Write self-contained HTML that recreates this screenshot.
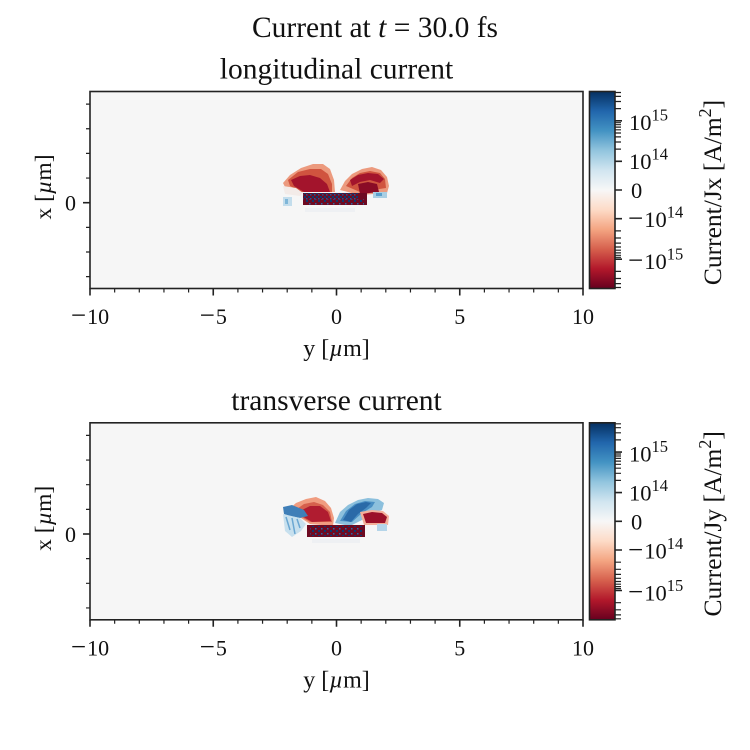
<!DOCTYPE html>
<html><head><meta charset="utf-8"><style>
html,body{margin:0;padding:0;background:#fff;}
svg{display:block;}
text{font-family:"Liberation Serif",serif;fill:#111;}
</style></head><body>
<svg width="750" height="750" viewBox="0 0 750 750" xmlns="http://www.w3.org/2000/svg">
<defs>
<linearGradient id="rdbu" x1="0" y1="0" x2="0" y2="1">
<stop offset="0" stop-color="#053061"/>
<stop offset="0.1" stop-color="#2166ac"/>
<stop offset="0.2" stop-color="#4393c3"/>
<stop offset="0.3" stop-color="#92c5de"/>
<stop offset="0.4" stop-color="#d1e5f0"/>
<stop offset="0.5" stop-color="#f7f7f7"/>
<stop offset="0.6" stop-color="#fddbc7"/>
<stop offset="0.7" stop-color="#f4a582"/>
<stop offset="0.8" stop-color="#d6604d"/>
<stop offset="0.9" stop-color="#b2182b"/>
<stop offset="1" stop-color="#67001f"/>
</linearGradient>
<pattern id="sp" width="4" height="4" patternUnits="userSpaceOnUse">
<rect x="0" y="0" width="2" height="2" fill="#0b3b70"/>
<rect x="2" y="2" width="1.5" height="1.5" fill="#1d5b98"/>
</pattern>
<pattern id="sp2" width="6" height="5" patternUnits="userSpaceOnUse">
<rect x="0" y="0" width="2" height="2" fill="#0b3b70"/>
<rect x="3" y="3" width="1.5" height="1.5" fill="#2a6aa8"/>
</pattern>
</defs>

<!-- suptitle -->
<text x="375" y="37" font-size="29.5" text-anchor="middle">Current at <tspan font-style="italic">t</tspan> = 30.0 fs</text>

<!-- ================= TOP PANEL ================= -->
<g id="top">
<text x="336.5" y="78.5" font-size="29.5" text-anchor="middle">longitudinal current</text>
<rect x="90" y="91.5" width="493" height="197" fill="#f6f6f6"/>

<!-- blob Jx -->
<g>
<path d="M283,183 L290,175 L301,168 L313,164 L323,164 L330,169 L334,180 L335,192 L300,192 L285,187 Z" fill="#ec9a7e"/>
<path d="M288,180 L298,172 L310,169 L321,169 L328,174 L332,184 L332,192 L302,192 L290,186 Z" fill="#d0543f"/>
<path d="M291,180 L300,176 L310,175 L320,178 L327,184 L330,192 L304,192 L294,186 Z" fill="#a3142c"/>
<path d="M283,186 L296,188 L303,193 L300,196 L285,194 Z" fill="#f3ebe8"/>
<path d="M340,190 L345,181 L352,174 L362,169 L372,167 L381,170 L387,177 L389,186 L387,193 L360,195 Z" fill="#ec9a7e"/>
<path d="M346,186 L352,178 L360,173 L370,171 L380,173 L385,179 L386,188 L360,192 Z" fill="#d0543f"/>
<path d="M350,180 L358,175 L368,173 L378,174 L384,179 L380,183 L370,180 L360,182 L352,186 Z" fill="#a3142c"/>
<path d="M358,184 L368,182 L377,184 L379,192 L360,194 Z" fill="#8a0c26"/>
<rect x="373" y="192" width="14" height="6" fill="#a9cfe4"/>
<rect x="376" y="193" width="6" height="3" fill="#5a9fcb"/>
<rect x="283" y="197" width="9" height="9" fill="#c3ddec"/>
<rect x="285" y="199" width="3" height="5" fill="#7fb6d8"/>
<rect x="304" y="194" width="10" height="5" fill="#7fb6d8"/>
<rect x="303" y="193" width="64" height="12" fill="#6d0a22"/>
<rect x="303" y="193" width="55" height="7" fill="url(#sp)"/>
<rect x="306" y="199" width="58" height="6" fill="url(#sp2)"/>
<rect x="305" y="208" width="50" height="4" fill="#eef0f3"/>
</g>

<!-- frame -->
<rect x="90" y="91.5" width="493" height="197" fill="none" stroke="#222" stroke-width="1.6"/>
<path d="M90,288.5v7M213.25,288.5v7M336.5,288.5v7M459.75,288.5v7M583,288.5v7" stroke="#222" stroke-width="1.6"/>
<path d="M114.65,288.5v4M139.3,288.5v4M163.95,288.5v4M188.6,288.5v4M237.9,288.5v4M262.55,288.5v4M287.2,288.5v4M311.85,288.5v4M361.15,288.5v4M385.8,288.5v4M410.45,288.5v4M435.1,288.5v4M484.4,288.5v4M509.05,288.5v4M533.7,288.5v4M558.35,288.5v4" stroke="#222" stroke-width="1.2"/>
<path d="M83,202.7h7" stroke="#222" stroke-width="1.6"/>
<path d="M86,104.1h4M86,128.75h4M86,153.4h4M86,178.05h4M86,227.35h4M86,252h4M86,276.65h4" stroke="#222" stroke-width="1.2"/>
<text x="76" y="210.5" font-size="22" text-anchor="end">0</text>
<g font-size="22" text-anchor="middle">
<text x="90" y="324"><tspan font-size="27">−</tspan><tspan dx="1">10</tspan></text>
<text x="213.25" y="324"><tspan font-size="27">−</tspan><tspan dx="1">5</tspan></text>
<text x="336.5" y="324">0</text>
<text x="459.75" y="324">5</text>
<text x="583" y="324">10</text>
</g>
<text x="336.5" y="356" font-size="24" text-anchor="middle">y [<tspan font-style="italic">µ</tspan>m]</text>
<text transform="translate(51,187) rotate(-90)" font-size="23.5" text-anchor="middle">x [<tspan font-style="italic">µ</tspan>m]</text>

<!-- colorbar -->
<rect x="589.5" y="91.5" width="25.5" height="197" fill="url(#rdbu)" stroke="#222" stroke-width="1.6"/>
<path d="M615,120.8h7M615,161.3h7M615,190h7M615,218.7h7M615,259.2h7" stroke="#222" stroke-width="1.6"/>
<path d="M615,92.5h6M615,96.4h6M615,101.5h6M615,108.6h6M615,122.7h6M615,124.7h6M615,127.1h6M615,129.8h6M615,133h6M615,136.9h6M615,142h6M615,149.1h6M615,230.9h6M615,238h6M615,243.1h6M615,247h6M615,250.2h6M615,252.9h6M615,255.3h6M615,257.3h6M615,271.4h6M615,278.5h6M615,283.6h6M615,287.5h6" stroke="#222" stroke-width="1.2"/>
<g font-size="22.5">
<text x="629" y="130">10<tspan font-size="16.5" dy="-9.5">15</tspan></text>
<text x="629" y="169">10<tspan font-size="16.5" dy="-9.5">14</tspan></text>
<text x="631" y="198">0</text>
<text x="628" y="227"><tspan font-size="27">−</tspan><tspan dx="1">10</tspan><tspan font-size="16.5" dy="-9.5">14</tspan></text>
<text x="628" y="269"><tspan font-size="27">−</tspan><tspan dx="1">10</tspan><tspan font-size="16.5" dy="-9.5">15</tspan></text>
</g>
<text transform="translate(721,192.5) rotate(-90)" font-size="25.5" text-anchor="middle">Current/Jx [A/m<tspan font-size="18" dy="-10">2</tspan><tspan dy="10">]</tspan></text>
</g>

<!-- ================= BOTTOM PANEL ================= -->
<g id="bottom">
<text x="336.5" y="409.8" font-size="29.5" text-anchor="middle">transverse current</text>
<rect x="90" y="422.8" width="493" height="197" fill="#f6f6f6"/>

<g>
<path d="M288,510 L296,503 L306,499 L316,497 L325,501 L331,508 L334,518 L333,526 L310,524 L298,516 Z" fill="#f09c80"/>
<path d="M294,511 L304,504 L314,502 L323,505 L330,512 L332,522 L310,522 L300,516 Z" fill="#d6604d"/>
<path d="M300,511 L310,506 L320,506 L328,512 L331,521 L312,522 L302,516 Z" fill="#b01c30"/>
<path d="M283,507 L292,505 L304,510 L308,516 L300,518 L290,516 L284,514 Z" fill="#3f7fb8"/>
<path d="M283,514 L300,518 L306,524 L301,531 L292,537 L285,531 Z" fill="#c7e0ee"/>
<path d="M286,517 L290,530 M292,518 L295,534 M297,519 L300,528" stroke="#6aa7d2" stroke-width="1.5"/>
<path d="M335,523 L340,512 L348,505 L358,500 L368,498 L378,499 L384,503 L382,510 L370,514 L362,520 L350,526 Z" fill="#8cc0dd"/>
<path d="M340,521 L346,511 L355,504 L365,501 L375,502 L372,507 L362,513 L352,522 Z" fill="#4a8fc4"/>
<path d="M343,520 L349,510 L357,504 L366,502 L371,503 L366,508 L358,514 L351,522 Z" fill="#2a6aa8"/>
<path d="M360,512 L372,510 L383,511 L389,516 L388,525 L364,525 Z" fill="#f4b09a"/>
<path d="M363,514 L372,512 L382,513 L387,517 L385,523 L366,523 Z" fill="#9b1129"/>
<rect x="377" y="524" width="10" height="7" fill="#b5d5e9"/>
<rect x="307" y="525" width="58" height="12" fill="#6d0a22"/>
<rect x="310" y="526" width="52" height="10" fill="url(#sp2)"/>
<rect x="312" y="539" width="48" height="4" fill="#eef0f3"/>
</g>

<rect x="90" y="422.8" width="493" height="197" fill="none" stroke="#222" stroke-width="1.6"/>
<path d="M90,619.8v7M213.25,619.8v7M336.5,619.8v7M459.75,619.8v7M583,619.8v7" stroke="#222" stroke-width="1.6"/>
<path d="M114.65,619.8v4M139.3,619.8v4M163.95,619.8v4M188.6,619.8v4M237.9,619.8v4M262.55,619.8v4M287.2,619.8v4M311.85,619.8v4M361.15,619.8v4M385.8,619.8v4M410.45,619.8v4M435.1,619.8v4M484.4,619.8v4M509.05,619.8v4M533.7,619.8v4M558.35,619.8v4" stroke="#222" stroke-width="1.2"/>
<path d="M83,534h7" stroke="#222" stroke-width="1.6"/>
<path d="M86,435.4h4M86,460.05h4M86,484.7h4M86,509.35h4M86,558.65h4M86,583.3h4M86,607.95h4" stroke="#222" stroke-width="1.2"/>
<text x="76" y="541.8" font-size="22" text-anchor="end">0</text>
<g font-size="22" text-anchor="middle">
<text x="90" y="655.3"><tspan font-size="27">−</tspan><tspan dx="1">10</tspan></text>
<text x="213.25" y="655.3"><tspan font-size="27">−</tspan><tspan dx="1">5</tspan></text>
<text x="336.5" y="655.3">0</text>
<text x="459.75" y="655.3">5</text>
<text x="583" y="655.3">10</text>
</g>
<text x="336.5" y="687.3" font-size="24" text-anchor="middle">y [<tspan font-style="italic">µ</tspan>m]</text>
<text transform="translate(51,518.3) rotate(-90)" font-size="23.5" text-anchor="middle">x [<tspan font-style="italic">µ</tspan>m]</text>

<rect x="589.5" y="422.8" width="25.5" height="197" fill="url(#rdbu)" stroke="#222" stroke-width="1.6"/>
<path d="M615,452.1h7M615,492.6h7M615,521.3h7M615,550h7M615,590.5h7" stroke="#222" stroke-width="1.6"/>
<path d="M615,423.8h6M615,427.7h6M615,432.8h6M615,439.9h6M615,454h6M615,456h6M615,458.4h6M615,461.1h6M615,464.3h6M615,468.2h6M615,473.3h6M615,480.4h6M615,562.2h6M615,569.3h6M615,574.4h6M615,578.3h6M615,581.5h6M615,584.2h6M615,586.6h6M615,588.6h6M615,602.7h6M615,609.8h6M615,614.9h6M615,618.8h6" stroke="#222" stroke-width="1.2"/>
<g font-size="22.5">
<text x="629" y="461.3">10<tspan font-size="16.5" dy="-9.5">15</tspan></text>
<text x="629" y="500.3">10<tspan font-size="16.5" dy="-9.5">14</tspan></text>
<text x="631" y="529.3">0</text>
<text x="628" y="558.3"><tspan font-size="27">−</tspan><tspan dx="1">10</tspan><tspan font-size="16.5" dy="-9.5">14</tspan></text>
<text x="628" y="600.3"><tspan font-size="27">−</tspan><tspan dx="1">10</tspan><tspan font-size="16.5" dy="-9.5">15</tspan></text>
</g>
<text transform="translate(721,523.8) rotate(-90)" font-size="25.5" text-anchor="middle">Current/Jy [A/m<tspan font-size="18" dy="-10">2</tspan><tspan dy="10">]</tspan></text>
</g>
</svg>
</body></html>
